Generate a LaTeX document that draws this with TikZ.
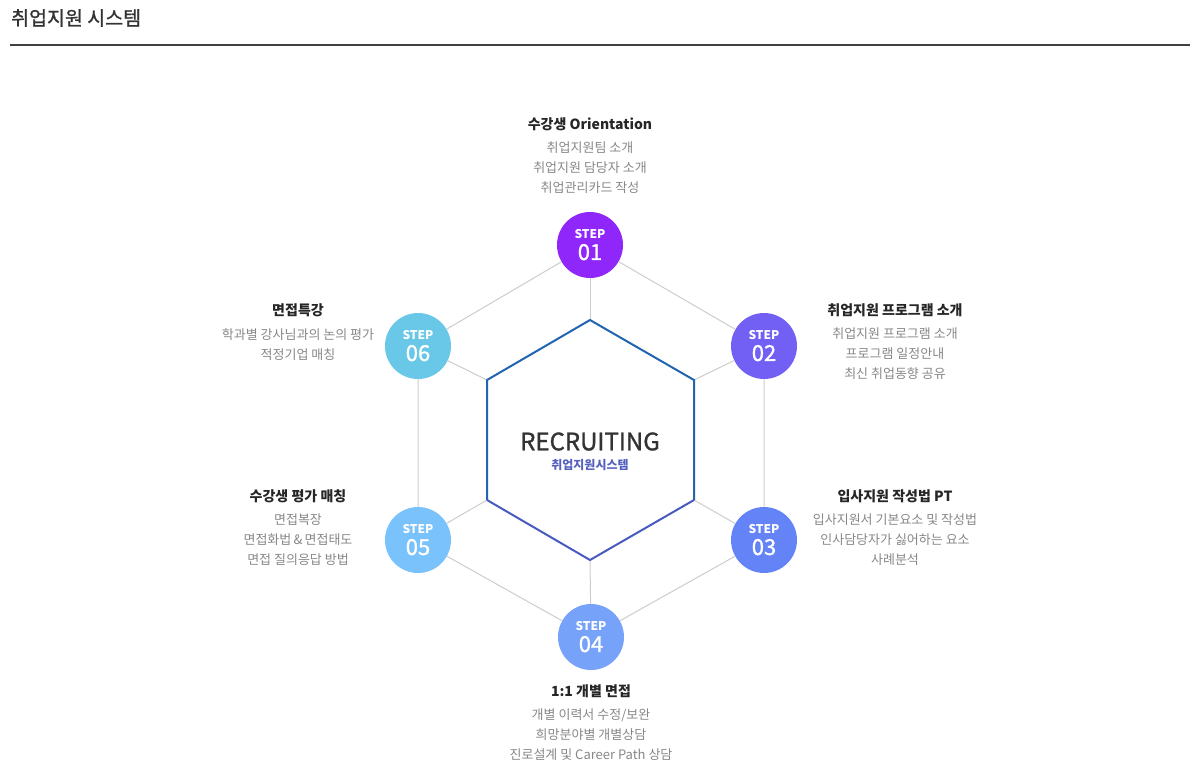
\documentclass[tikz,border=0pt]{standalone}
\usepackage{fontspec}
\setmainfont{Noto Sans CJK KR}
\newfontfamily\medfont[FakeBold=1.2]{Noto Sans CJK KR}
\usetikzlibrary{positioning}
\definecolor{stepa}{RGB}{143,38,250}
\definecolor{stepb}{RGB}{114,96,245}
\definecolor{stepc}{RGB}{99,131,246}
\definecolor{stepd}{RGB}{118,162,250}
\definecolor{stepe}{RGB}{122,194,252}
\definecolor{stepf}{RGB}{105,200,232}
\definecolor{hexa}{RGB}{32,100,178}
\definecolor{hexb}{RGB}{72,90,192}
\definecolor{subblue}{RGB}{84,96,190}
\newcommand{\steplabel}[1]{{\fontsize{12}{12}\selectfont\bfseries STEP}\\[4pt]{\fontsize{22}{22}\selectfont\medfont #1}}

\begin{document}
\begin{tikzpicture}[x=1pt, y=-1pt,
  stepdot/.style={circle, minimum size=66pt, inner sep=0pt, text=white, align=center},
  grayline/.style={draw=black!20, line width=1pt},
  steptitle/.style={font=\fontsize{14}{16}\selectfont\bfseries, text=black!85, inner sep=0pt},
  stepdesc/.style={font=\fontsize{13}{20}\selectfont, text=black!47, align=center, anchor=north, inner sep=0pt}]
\useasboundingbox (0,0) rectangle (1201,771);
\node[anchor=west, inner sep=0pt, font=\fontsize{19.5}{20}\selectfont\medfont, text=black!80] (head) at (11,18) {취업지원 시스템};
\draw[line width=2pt, black!75] (10,45) -- (1190,45);
\coordinate (h1) at (590,320);\coordinate (h2) at (694,380);\coordinate (h3) at (694,500);
\coordinate (h4) at (590,560);\coordinate (h5) at (487,500);\coordinate (h6) at (487,380);
\node[stepdot, fill=stepa] (s1) at (590,245) {\steplabel{01}};
\node[stepdot, fill=stepb] (s2) at (764,346) {\steplabel{02}};
\node[stepdot, fill=stepc] (s3) at (764,540) {\steplabel{03}};
\node[stepdot, fill=stepd] (s4) at (591,637) {\steplabel{04}};
\node[stepdot, fill=stepe] (s5) at (418,540) {\steplabel{05}};
\node[stepdot, fill=stepf] (s6) at (418,346) {\steplabel{06}};
\draw[grayline] (s1) -- (s2) -- (s3) -- (s4) -- (s5) -- (s6) -- (s1);
\draw[grayline] (s1) -- (h1);\draw[grayline] (s2) -- (h2);\draw[grayline] (s3) -- (h3);
\draw[grayline] (s4) -- (h4);\draw[grayline] (s5) -- (h5);\draw[grayline] (s6) -- (h6);
\draw[line width=2pt, hexa, line join=miter] (h3) -- (h2) -- (h1) -- (h6) -- (h5);
\draw[line width=2pt, hexb, line join=miter] (h5) -- (h4) -- (h3);
\node[font=\fontsize{24}{24}\selectfont\medfont, text=black!80, inner sep=0pt] (core) at (590,441.5) {RECRUITING};
\node[font=\fontsize{12}{14}\selectfont\bfseries, text=subblue, inner sep=0pt] (coresub) at (590,465) {취업지원시스템};
\node[steptitle] (t1) at (590,124) {수강생 Orientation};
\node[stepdesc] (d1) at (590,141.5) {취업지원팀 소개\\취업지원 담당자 소개\\취업관리카드 작성};
\node[steptitle] (t2) at (895,310) {취업지원 프로그램 소개};
\node[stepdesc] (d2) at (895,328) {취업지원 프로그램 소개\\프로그램 일정안내\\최신 취업동향 공유};
\node[steptitle] (t3) at (895,496) {입사지원 작성법 PT};
\node[stepdesc] (d3) at (895,514) {입사지원서 기본요소 및 작성법\\인사담당자가 싫어하는 요소\\사례분석};
\node[steptitle] (t4) at (591,691) {1:1 개별 면접};
\node[stepdesc] (d4) at (591,709) {개별 이력서 수정/보완\\희망분야별 개별상담\\진로설계 및 Career Path 상담};
\node[steptitle] (t5) at (298,496) {수강생 평가 매칭};
\node[stepdesc] (d5) at (298,514) {면접복장\\면접화법\,\&\,면접태도\\면접 질의응답 방법};
\node[steptitle] (t6) at (298,310) {면접특강};
\node[stepdesc] (d6) at (298,328) {학과별 강사님과의 논의 평가\\적정기업 매칭};
\end{tikzpicture}
\end{document}
